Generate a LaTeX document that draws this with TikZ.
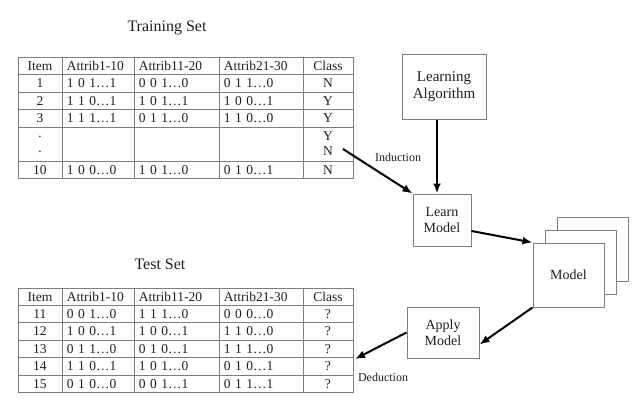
\documentclass[tikz,border=0pt]{standalone}
\usepackage{fontspec}
\setmainfont{Liberation Serif}
\usepackage{tikz}
\usetikzlibrary{
  matrix,%
  % enables the bigger arrow tips
  arrows.meta,%
  positioning
}
\definecolor{rulegray}{RGB}{125,125,125}
\definecolor{inkgray}{RGB}{30,30,30}
\tikzset{>={Latex[length=10pt,width=8pt]}}
\tikzset{font=\fontsize{13.5}{15}\selectfont, text=inkgray}
\tikzset{
  datatable/.style={matrix of nodes, nodes in empty cells,
    column sep=-0.9pt, row sep=-0.9pt,
    nodes={draw=rulegray, line width=0.9pt, anchor=center, inner xsep=5pt,
      inner ysep=0pt, minimum height=17.5pt, align=center},
    column 1/.style={nodes={text width=34pt}},
    column 2/.style={nodes={text width=62pt, align=left}},
    column 3/.style={nodes={text width=75pt, align=left}},
    column 4/.style={nodes={text width=74pt, align=left}},
    column 5/.style={nodes={text width=40pt}}},
  stepbox/.style={draw=rulegray, line width=1pt, fill=white, align=center,
    inner sep=2pt, font=\fontsize{15}{17}\selectfont},
  flow/.style={->, line width=2pt, draw=black},
  tag/.style={font=\fontsize{12}{14}\selectfont}
}

\begin{document}
\begin{tikzpicture}[x=1pt, y=-1pt]
  \useasboundingbox (0,0) rectangle (640,402);
  % training data
  \node[font=\fontsize{16}{18}\selectfont] (traintitle) at (167,28) {Training Set};
  \matrix (train) [datatable, anchor=north west, row 5/.style={nodes={minimum height=34pt}}] at (14,53) {
    Item & Attrib1-10 & Attrib11-20 & Attrib21-30 & Class \\
    1 & 1 0 1\ldots1 & 0 0 1\ldots0 & 0 1 1\ldots0 & N \\
    2 & 1 1 0\ldots1 & 1 0 1\ldots1 & 1 0 0\ldots1 & Y \\
    3 & 1 1 1\ldots1 & 0 1 1\ldots0 & 1 1 0\ldots0 & Y \\
    .\par . & & & & Y\par N \\
    10 & 1 0 0\ldots0 & 1 0 1\ldots0 & 0 1 0\ldots1 & N \\
  };
  % test data
  \node[font=\fontsize{16}{18}\selectfont] (testtitle) at (160,264) {Test Set};
  \matrix (test) [datatable, anchor=north west, nodes={minimum height=17.4pt}] at (14,284) {
    Item & Attrib1-10 & Attrib11-20 & Attrib21-30 & Class \\
    11 & 0 0 1\ldots0 & 1 1 1\ldots0 & 0 0 0\ldots0 & ? \\
    12 & 1 0 0\ldots1 & 1 0 0\ldots1 & 1 1 0\ldots0 & ? \\
    13 & 0 1 1\ldots0 & 0 1 0\ldots1 & 1 1 1\ldots0 & ? \\
    14 & 1 1 0\ldots1 & 1 0 1\ldots0 & 0 1 0\ldots1 & ? \\
    15 & 0 1 0\ldots0 & 0 0 1\ldots1 & 0 1 1\ldots1 & ? \\
  };
  % process boxes
  \node[stepbox, minimum width=84pt, minimum height=65pt] (algo) at (444,86.5) {Learning\\Algorithm};
  \node[stepbox, minimum width=58pt, minimum height=52pt, font=\fontsize{14}{16}\selectfont] (learn) at (442,220) {Learn\\Model};
  \node[stepbox, minimum width=71pt, minimum height=64pt] (model3) at (592.5,249.5) {};
  \node[stepbox, minimum width=71pt, minimum height=64pt] (model2) at (580.5,262.5) {};
  \node[stepbox, minimum width=71pt, minimum height=64pt, font=\fontsize{14}{16}\selectfont] (model) at (568.5,275) {Model};
  \node[stepbox, minimum width=72pt, minimum height=51pt, font=\fontsize{14}{16}\selectfont] (apply) at (443,332.5) {Apply\\Model};
  \node[tag] (induct) at (398,157) {Induction};
  \node[tag] (deduct) at (383,377) {Deduction};
  \coordinate (trainout) at (343,149);
  \coordinate (testin) at (355,359);
  % arrows
  \draw[flow] (trainout) -- (learn.north west);
  \draw[flow] ([xshift=-5pt]learn.north |- algo.south) -- ([xshift=-5pt]learn.north);
  \draw[flow] ([yshift=-11pt]learn.east) -- (model.north west);
  \draw[flow] (model.south west) -- ([yshift=-12pt]apply.east);
  \draw[flow] (apply.west) -- (testin);
\end{tikzpicture}
\end{document}
